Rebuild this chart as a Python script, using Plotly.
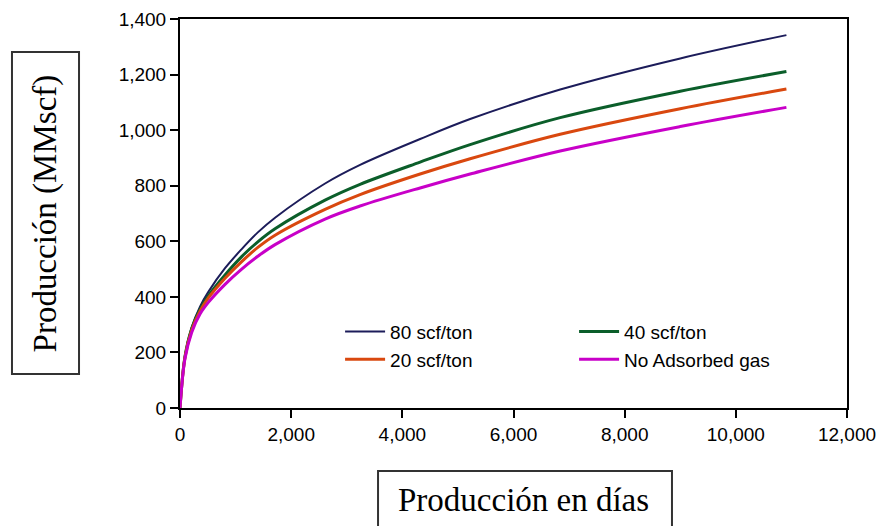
import plotly.graph_objects as go

days = [0, 90, 210, 360, 510, 810, 1110, 1400, 1710, 2610, 3240, 4320, 5220, 6840, 9000, 10910]
scf80 = [0, 190, 290, 365, 418, 503, 572, 632, 685, 808, 875, 968, 1040, 1146, 1258, 1342]
scf40 = [0, 185, 285, 355, 404, 479, 545, 598, 645, 748, 805, 885, 948, 1045, 1140, 1211]
scf20 = [0, 183, 280, 348, 396, 467, 527, 578, 622, 715, 768, 842, 897, 985, 1077, 1148]
no_ads = [0, 178, 272, 338, 380, 445, 500, 546, 588, 680, 727, 792, 842, 925, 1013, 1082]

series_names = ["80 scf/ton", "40 scf/ton", "20 scf/ton", "No Adsorbed gas"]
series_vals = [scf80, scf40, scf20, no_ads]
colors = ["#1c1c5a", "#0b5e2a", "#d9480f", "#c800c8"]
widths = [2, 3, 3, 3]

fig = go.Figure()
for name, vals, c, w in zip(series_names, series_vals, colors, widths):
    fig.add_trace(go.Scatter(x=days, y=vals, mode="lines", name=name,
                             line=dict(color=c, width=w, shape="spline")))

tickfont = dict(family="Liberation Sans, Arial", size=19, color="black")
fig.update_layout(
    width=883, height=526,
    margin=dict(l=180, r=36, t=19, b=118),
    paper_bgcolor="white", plot_bgcolor="white",
    showlegend=True,
    legend=dict(orientation="h", x=0.24, y=0.245, xanchor="left", yanchor="top",
                entrywidth=179, entrywidthmode="pixels",
                font=dict(family="Liberation Sans, Arial", size=19, color="black"),
                bgcolor="rgba(0,0,0,0)", itemwidth=40, tracegroupgap=0),
    xaxis=dict(range=[0, 12000], tickvals=list(range(0, 12001, 2000)),
               ticktext=["0", "2,000", "4,000", "6,000", "8,000", "10,000", "12,000"],
               ticks="outside", ticklen=8, tickwidth=2, tickcolor="black",
               showline=True, linecolor="black", linewidth=2, mirror=True,
               showgrid=False, zeroline=False, tickfont=tickfont, automargin=False),
    yaxis=dict(range=[0, 1400], tickvals=list(range(0, 1401, 200)),
               ticktext=["0", "200", "400", "600", "800", "1,000", "1,200", "1,400"],
               ticks="outside", ticklen=8, tickwidth=2, tickcolor="black",
               showline=True, linecolor="black", linewidth=2, mirror=True,
               showgrid=False, zeroline=False, tickfont=tickfont, automargin=False),
)

serif = dict(family="Liberation Serif, Times New Roman", size=33, color="black")
fig.add_shape(type="rect", xref="paper", yref="paper", x0=-0.2519, x1=-0.1514,
              y0=0.0874, y1=0.9152, line=dict(color="#333333", width=2))
fig.add_annotation(text="Producción (MMscf)", xref="paper", yref="paper",
                   x=-0.2019, y=0.501, textangle=-90, showarrow=False, font=serif,
                   xanchor="center", yanchor="middle")
fig.add_shape(type="rect", xref="paper", yref="paper", x0=0.2969, x1=0.7376,
              y0=-0.33, y1=-0.162, line=dict(color="#333333", width=2))
fig.add_annotation(text="Producción en días", xref="paper", yref="paper",
                   x=0.515, y=-0.237, showarrow=False, font=serif,
                   xanchor="center", yanchor="middle")

fig.write_html("out.html")
